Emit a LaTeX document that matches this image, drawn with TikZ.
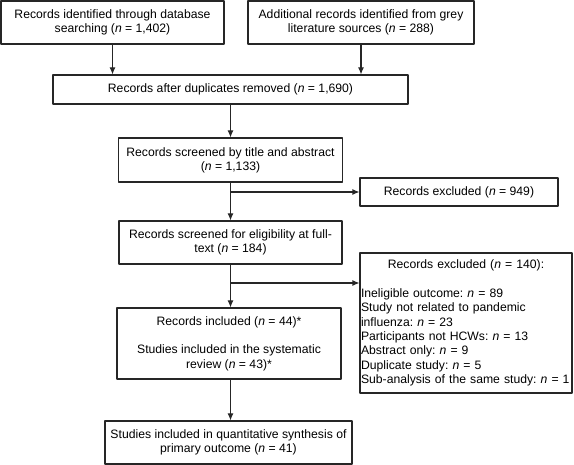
\documentclass[tikz,border=0pt]{standalone}
\usepackage{fontspec}
\setmainfont{Liberation Sans}
\usetikzlibrary{arrows.meta}
\frenchspacing
\begin{document}
\begin{tikzpicture}[x=1pt, y=-1pt, font=\fontsize{12.2}{14.3}\selectfont, line join=round, >={Latex[length=7pt,width=6pt]},
    box/.style={draw=black!85, line width=1.1pt, align=center, inner sep=2pt},
    link/.style={->, draw=black!85, line width=1.1pt}]
    \useasboundingbox (0,0) rectangle (574,465);
    \node[box, minimum width=223, minimum height=43] (dbase) at (112.5,22.5) {Records identified through database\\searching (\textit{n} = 1,402)};
    \node[box, minimum width=226, minimum height=43] (grey) at (361,22.5) {Additional records identified from grey\\literature sources (\textit{n} = 288)};
    \node[box, minimum width=355, minimum height=29] (dupl) at (230.5,89.5) {Records after duplicates removed (\textit{n} = 1,690)};
    \node[box, minimum width=224, minimum height=44] (title) at (230.5,160) {Records screened by title and abstract\\(\textit{n} = 1,133)};
    \node[box, minimum width=198, minimum height=28] (excla) at (459,192) {Records excluded (\textit{n} = 949)};
    \node[box, minimum width=223, minimum height=43] (full) at (230.5,242.5) {Records screened for eligibility at full-\\text (\textit{n} = 184)};
    \node[box, align=left, text width=210, inner xsep=1pt, minimum height=140] (exclb) at (466,323) {\centerline{Records excluded (\textit{n} = 140):}\\[14.3pt]
        Ineligible outcome: \textit{n} = 89\\
        Study not related to pandemic\\
        influenza: \textit{n} = 23\\
        Participants not HCWs: \textit{n} = 13\\
        Abstract only: \textit{n} = 9\\
        Duplicate study: \textit{n} = 5\\
        Sub-analysis of the same study: \textit{n} = 1};
    \node[box, minimum width=224, minimum height=71] (incl) at (229,343.5) {Records included (\textit{n} = 44)*\\[14.3pt]Studies included in the systematic\\review (\textit{n} = 43)*};
    \node[box, minimum width=247, minimum height=43] (quant) at (228.5,442.5) {Studies included in quantitative synthesis of\\primary outcome (\textit{n} = 41)};
    % connectors
    \draw[link] (dbase.south) -- (dbase.south |- dupl.north);
    \draw[link] (grey.south) -- (grey.south |- dupl.north);
    \draw[link] (dupl.south -| title.north) -- (title.north);
    \draw[link] (title.south) -- (full.north);
    \draw[link] (title.south |- excla.west) -- (excla.west);
    \coordinate (fork) at (230.5,283);
    \draw[link] (full.south) -- (full.south |- incl.north);
    \draw[link] (full.south |- fork) -- (fork -| exclb.west);
    \draw[link] (incl.south -| full.south) -- (full.south |- quant.north);
\end{tikzpicture}
\end{document}
